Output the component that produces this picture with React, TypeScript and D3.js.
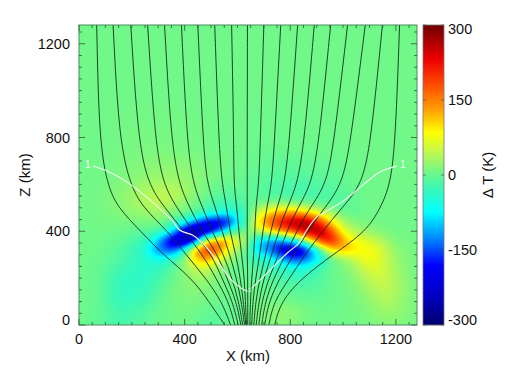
import React, { useEffect, useRef } from 'react';
import * as d3 from 'd3';

// Temperature difference (K), one row per height
const gridX = [0, 80, 160, 240, 280, 320, 360, 400, 440, 480, 520, 560, 600, 640, 680, 720, 760, 800, 840, 880, 920, 960, 1000, 1040, 1080, 1120, 1160, 1200, 1280];
const gridZ = [0, 60, 120, 180, 240, 280, 320, 360, 400, 440, 480, 520, 560, 640, 760, 1000, 1280];
const dT0 = [5, -8, -20, -8, 0, 3, 5, 5, 0, -8, -10, -3, 3, 8, 12, 15, 18, 15, 8, 5, 5, 5, 5, 5, 8, 12, 15, 15, 8];
const dT60 = [5, -5, -25, -15, -5, 0, 5, 8, 5, 0, -5, -3, 0, 5, 10, 15, 20, 20, 12, 5, 3, 3, 5, 8, 12, 20, 28, 25, 8];
const dT120 = [5, -5, -35, -28, -15, -3, 8, 12, 12, 10, 5, 3, 3, 5, 5, 3, 0, 0, -3, -5, -3, 0, 3, 10, 18, 30, 40, 32, 8];
const dT180 = [5, -5, -35, -35, -25, -10, 5, 15, 20, 18, 10, 5, 3, 3, 0, -5, -10, -15, -18, -15, -8, 0, 5, 15, 30, 45, 50, 35, 6];
const dT240 = [5, -3, -25, -40, -35, -25, -5, 20, 45, 50, 25, 8, -3, -5, -15, -20, -30, -45, -50, -35, -15, 0, 10, 25, 50, 65, 55, 30, 5];
const dT280 = [5, 0, -15, -35, -55, -55, -25, 25, 100, 130, 80, 35, 5, -10, -35, -55, -90, -140, -150, -110, -60, 0, 20, 45, 75, 75, 50, 25, 5];
const dT320 = [5, 2, -12, -40, -100, -150, -150, -45, 130, 215, 175, 80, 25, -5, -100, -130, -200, -235, -225, -130, 0, 90, 120, 100, 85, 75, 50, 22, 5];
const dT360 = [5, 3, -5, -25, -65, -150, -235, -280, -170, 70, 150, 135, 65, 15, -90, -120, -130, -90, -20, 90, 210, 225, 130, 85, 70, 50, 30, 12, 5];
const dT400 = [5, 5, 2, -8, -10, -35, -95, -225, -300, -250, -170, -60, -5, 10, 50, 90, 140, 175, 225, 285, 270, 170, 75, 40, 25, 20, 12, 6, 5];
const dT440 = [5, 6, 8, 10, 10, 5, -15, -55, -120, -185, -210, -200, -85, -10, 100, 170, 225, 270, 285, 255, 175, 85, 35, 15, 8, 5, 5, 5, 5];
const dT480 = [5, 8, 15, 25, 30, 28, 8, 5, -5, -25, -45, -55, -45, -15, 55, 100, 125, 130, 115, 85, 50, 20, 2, -3, 3, 5, 5, 5, 5];
const dT520 = [5, 8, 18, 35, 42, 42, 35, 18, 5, -8, -20, -25, -20, -8, 0, 10, 12, 10, 5, 0, -8, -12, -10, -3, 3, 5, 5, 5, 5];
const dT560 = [5, 8, 18, 35, 42, 45, 42, 32, 18, 5, -5, -10, -8, -5, -8, -15, -20, -22, -22, -20, -18, -12, -8, -2, 3, 5, 5, 5, 5];
const dT640 = [5, 6, 10, 18, 22, 24, 24, 22, 18, 14, 10, 6, 3, 0, -5, -8, -10, -10, -10, -8, -6, -4, -2, 2, 4, 5, 5, 5, 5];
const dT760 = [5, 5, 8, 10, 10, 10, 10, 8, 8, 6, 5, 5, 4, 3, 2, 2, 2, 2, 3, 3, 3, 4, 4, 5, 5, 5, 5, 5, 5];
const dT1000 = [5, 5, 5, 5, 5, 5, 5, 5, 5, 5, 5, 5, 5, 5, 5, 5, 5, 5, 5, 5, 5, 5, 5, 5, 5, 5, 5, 5, 5];
const dT1280 = dT1000;
const dTRows = [dT0, dT60, dT120, dT180, dT240, dT280, dT320, dT360, dT400, dT440, dT480, dT520, dT560, dT640, dT760, dT1000, dT1280];

// Field lines: X (km) of each of the 19 lines at a set of heights
const lineZ = [1280, 800, 600, 500, 400, 300, 200, 100, 0];
const lineAt1280 = [67, 129, 196, 260, 324, 388, 450, 514, 578, 638, 700, 764, 828, 891, 953, 1017, 1084, 1149, 1214];
const lineAt800 = [76, 151, 223, 287, 348, 408, 469, 529, 586, 637, 687, 741, 798, 855, 911, 968, 1031, 1107, 1199];
const lineAt600 = [106, 193, 261, 318, 378, 431, 484, 541, 586, 637, 681, 730, 779, 828, 881, 938, 998, 1074, 1180];
const lineAt500 = [147, 242, 325, 371, 420, 469, 518, 560, 598, 637, 669, 711, 749, 787, 828, 874, 930, 995, 1142];
const lineAt400 = [234, 337, 397, 431, 465, 503, 541, 571, 605, 637, 666, 696, 726, 756, 787, 824, 866, 923, 1089];
const lineAt300 = [318, 405, 469, 503, 526, 548, 571, 594, 616, 637, 662, 685, 707, 730, 756, 783, 813, 855, 961];
const lineAt200 = [427, 480, 518, 541, 560, 579, 596, 611, 626, 639, 654, 669, 685, 700, 719, 737, 760, 798, 843];
const lineAt100 = [492, 541, 567, 582, 596, 605, 615, 622, 630, 639, 649, 658, 669, 681, 692, 705, 719, 737, 764];
const lineAt0 = [552, 574, 590, 603, 613, 620, 627, 632, 635, 639, 647, 654, 662, 671, 681, 692, 703, 719, 741];
const lineLevels = [lineAt1280, lineAt800, lineAt600, lineAt500, lineAt400, lineAt300, lineAt200, lineAt100, lineAt0];

// White contour labelled 1, [X, Z] in km
const contourLeft = [[53, 678], [117, 652], [193, 601], [269, 533], [352, 447], [382, 404], [431, 383], [465, 353], [522, 276], [571, 199], [628, 148], [639, 144]];
const contourRight = [[654, 156], [673, 178], [722, 233], [787, 305], [836, 353], [862, 404], [900, 460], [957, 498], [1006, 533], [1078, 600], [1138, 652], [1203, 678]];
const contourLabels = [[33, 684, 10.5], [1227, 684, 10.5], [646, 150, 6]];

const xTicks = [0, 400, 800, 1200];
const zTicks = [0, 400, 800, 1200];
const barTicks = [-300, -150, 0, 150, 300];

const colorStops = [-300, -240, -180, -130, -75, -25, 5, 45, 85, 130, 180, 230, 300];
const colorValues = ['#00006e', '#0000c4', '#0000ff', '#0080ff', '#00ffff', '#3cf8b4', '#70f888', '#c0f850', '#ffff00', '#ffa000', '#ff4c00', '#f00000', '#6e0000'];

const margin = { left: 79, right: 417, top: 25, bottom: 325 };
const fontFamily = '"Liberation Sans", Arial, sans-serif';

const App = () => {
  const ref = useRef<SVGSVGElement | null>(null);

  useEffect(() => {
    const svg = d3.select(ref.current);
    svg.selectAll('*').remove();

    const x = d3.scaleLinear().domain([0, 1280]).range([margin.left, margin.right]);
    const z = d3.scaleLinear().domain([0, 1280]).range([margin.bottom, margin.top]);
    const color = d3.scaleLinear<string>().domain(colorStops).range(colorValues).clamp(true);

    // Resample the grid to screen pixels, then smooth it
    const w = margin.right - margin.left;
    const h = margin.bottom - margin.top;
    const colIndex = d3.scaleLinear().domain(gridX).range(d3.range(gridX.length)).clamp(true);
    const rowIndex = d3.scaleLinear().domain(gridZ).range(d3.range(gridZ.length)).clamp(true);
    const field = new Float32Array(w * h);
    for (let j = 0; j < h; j++) {
      const rf = rowIndex(z.invert(margin.top + j + 0.5));
      const r0 = Math.min(Math.floor(rf), gridZ.length - 2);
      for (let i = 0; i < w; i++) {
        const cf = colIndex(x.invert(margin.left + i + 0.5));
        const c0 = Math.min(Math.floor(cf), gridX.length - 2);
        const a = d3.interpolateNumber(dTRows[r0][c0], dTRows[r0][c0 + 1])(cf - c0);
        const b = d3.interpolateNumber(dTRows[r0 + 1][c0], dTRows[r0 + 1][c0 + 1])(cf - c0);
        field[j * w + i] = a + (b - a) * (rf - r0);
      }
    }
    d3.blur2({ data: field, width: w, height: h }, 3);

    const canvas = document.createElement('canvas');
    canvas.width = w;
    canvas.height = h;
    const ctx = canvas.getContext('2d')!;
    const img = ctx.createImageData(w, h);
    field.forEach((v, k) => {
      const c = d3.rgb(color(v));
      img.data[k * 4] = c.r;
      img.data[k * 4 + 1] = c.g;
      img.data[k * 4 + 2] = c.b;
      img.data[k * 4 + 3] = 255;
    });
    ctx.putImageData(img, 0, 0);

    svg.append('image')
      .attr('x', margin.left)
      .attr('y', margin.top)
      .attr('width', w)
      .attr('height', h)
      .attr('href', canvas.toDataURL());

    // Field lines, basis curve irons out the reading errors
    const fieldLine = d3.line<[number, number]>()
      .x(d => x(d[0]))
      .y(d => z(d[1]))
      .curve(d3.curveBasis);

    d3.range(lineAt0.length).forEach(i => {
      const pts = lineZ.map((zv, k) => [lineLevels[k][i], zv] as [number, number]);
      svg.append('path')
        .attr('d', fieldLine(pts))
        .attr('fill', 'none')
        .attr('stroke', '#10301c')
        .attr('stroke-width', 0.9);
    });

    // White contour
    const contourLine = d3.line<[number, number]>()
      .x(d => x(d[0]))
      .y(d => z(d[1]))
      .curve(d3.curveCatmullRom.alpha(0.5));
    [contourLeft, contourRight].forEach(pts => {
      svg.append('path')
        .attr('d', contourLine(pts as [number, number][]))
        .attr('fill', 'none')
        .attr('stroke', '#f2f8f2')
        .attr('stroke-width', 1.1);
    });
    contourLabels.forEach(d => {
      svg.append('text')
        .attr('x', x(d[0]))
        .attr('y', z(d[1]))
        .attr('text-anchor', 'middle')
        .attr('dy', '0.35em')
        .attr('font-family', fontFamily)
        .attr('font-size', d[2])
        .attr('fill', '#f2f8f2')
        .text('1');
    });

    // Frame and ticks
    const tickColor = '#2d5a3c';
    svg.append('rect')
      .attr('x', margin.left)
      .attr('y', margin.top)
      .attr('width', w)
      .attr('height', h)
      .attr('fill', 'none')
      .attr('stroke', '#4d8a5e')
      .attr('stroke-width', 1);

    const addTick = (x1: number, y1: number, x2: number, y2: number) => {
      svg.append('line')
        .attr('x1', x1).attr('y1', y1).attr('x2', x2).attr('y2', y2)
        .attr('stroke', tickColor)
        .attr('stroke-width', 0.8);
    };
    d3.range(0, 1281, 50).forEach(v => {
      const len = v % 400 === 0 ? 6 : 3;
      addTick(x(v), margin.bottom, x(v), margin.bottom - len);
      addTick(x(v), margin.top, x(v), margin.top + len);
      addTick(margin.left, z(v), margin.left + len, z(v));
      addTick(margin.right, z(v), margin.right - len, z(v));
    });

    const addText = (tx: number, ty: number, s: string, anchor: string, size = 14.5, rotate = false) => {
      svg.append('text')
        .attr('transform', `translate(${tx},${ty})${rotate ? ' rotate(-90)' : ''}`)
        .attr('text-anchor', anchor)
        .attr('dy', '0.35em')
        .attr('font-family', fontFamily)
        .attr('font-size', size)
        .attr('fill', '#111')
        .text(s);
    };

    xTicks.forEach(v => addText(x(v), 339, String(v), 'middle'));
    zTicks.forEach(v => addText(70, v === 0 ? 320 : z(v), String(v), 'end'));
    addText(248, 356, 'X (km)', 'middle', 15);
    addText(25, 175, 'Z (km)', 'middle', 15, true);

    // Colour bar
    const bar = { x: 423, width: 21 };
    const barScale = d3.scaleLinear().domain([-300, 300]).range([margin.bottom, margin.top]);
    d3.range(margin.top, margin.bottom).forEach(py => {
      svg.append('rect')
        .attr('x', bar.x)
        .attr('y', py)
        .attr('width', bar.width)
        .attr('height', 1.2)
        .attr('fill', color(barScale.invert(py + 0.5)));
    });
    svg.append('rect')
      .attr('x', bar.x)
      .attr('y', margin.top)
      .attr('width', bar.width)
      .attr('height', h)
      .attr('fill', 'none')
      .attr('stroke', '#777')
      .attr('stroke-width', 0.8);
    barTicks.forEach(v => {
      const py = barScale(v);
      svg.append('line').attr('x1', bar.x).attr('x2', bar.x + 3).attr('y1', py).attr('y2', py).attr('stroke', '#555').attr('stroke-width', 0.7);
      svg.append('line').attr('x1', bar.x + bar.width - 3).attr('x2', bar.x + bar.width).attr('y1', py).attr('y2', py).attr('stroke', '#555').attr('stroke-width', 0.7);
      const ly = v === 300 ? 29 : v === -300 ? 320 : py;
      addText(448, ly, String(v), 'start');
    });
    addText(488, 175, '\u0394 T (K)', 'middle', 15, true);
  }, []);

  return <svg ref={ref} width={525} height={375} style={{ position: 'absolute', left: 0, top: 0, background: '#fff' }} />;
};

export default App;
